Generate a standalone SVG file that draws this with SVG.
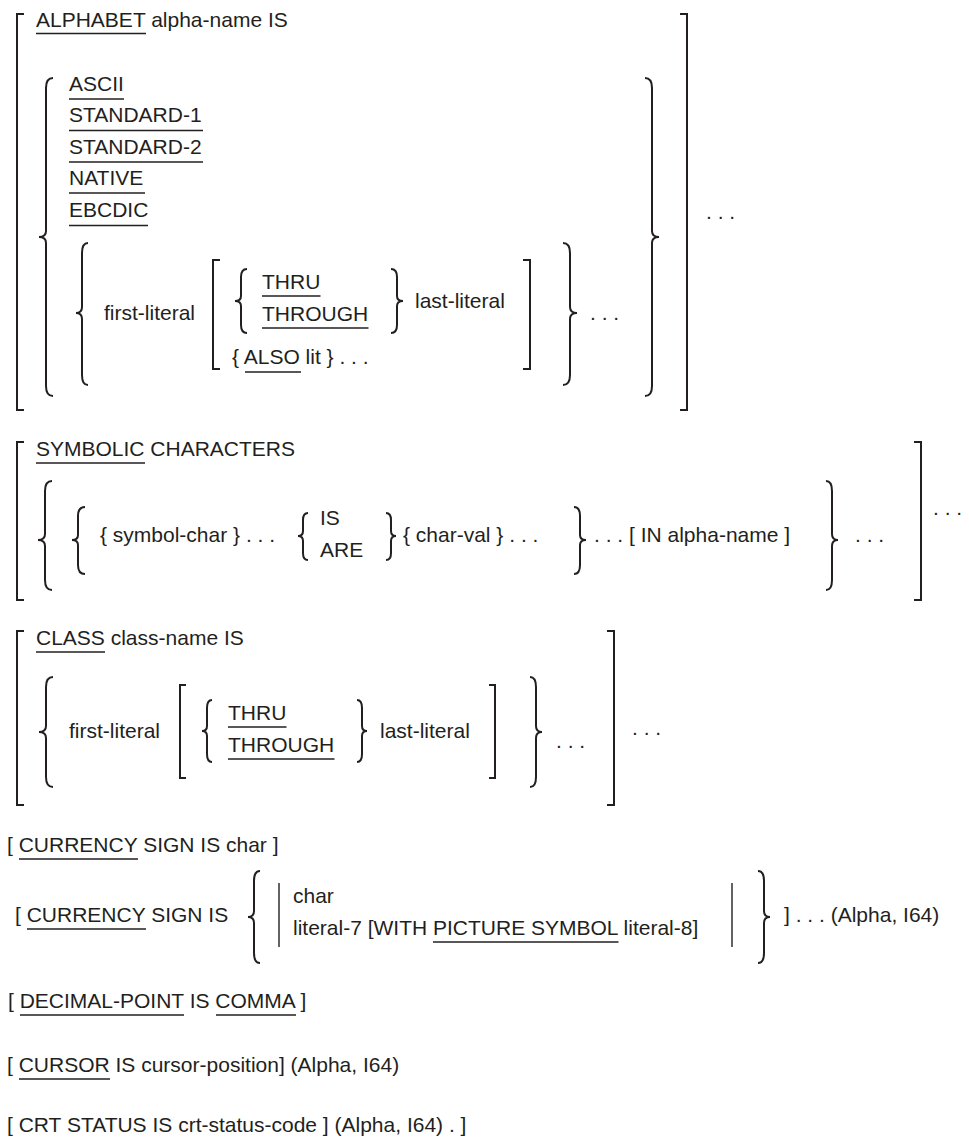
<svg xmlns="http://www.w3.org/2000/svg" width="969" height="1141" viewBox="0 0 969 1141">
<style>
.t{font-family:"Liberation Sans",Arial,sans-serif;font-size:21px;fill:#231f20}
.u{stroke:#231f20;stroke-width:1.7;fill:none}
.br{stroke:#231f20;stroke-width:2;fill:none;stroke-linejoin:miter}
.bar{stroke:#231f20;stroke-width:1.4;fill:none}
</style>
<rect width="969" height="1141" fill="#ffffff"/>
<g id="alphabet-clause">
<path class="br" d="M24 14 H17 V410 H24"/>
<path class="br" d="M680 14 H687 V410 H680"/>
<text class="t" x="36" y="27">ALPHABET alpha-name IS</text>
<line class="u" x1="36" y1="33.5" x2="146" y2="33.5"/>
<path class="br" d="M53 78 Q46 78 46 88 V231 Q46 237 39 237 Q46 237 46 243 V386 Q46 396 53 396"/>
<path class="br" d="M645 78 Q652 78 652 88 V231 Q652 237 659 237 Q652 237 652 243 V386 Q652 396 645 396"/>
<text class="t" x="69" y="91">ASCII</text>
<line class="u" x1="69" y1="99" x2="124" y2="99"/>
<text class="t" x="69" y="122">STANDARD-1</text>
<line class="u" x1="69" y1="130.5" x2="203" y2="130.5"/>
<text class="t" x="69" y="153.5">STANDARD-2</text>
<line class="u" x1="69" y1="162" x2="203" y2="162"/>
<text class="t" x="69" y="185">NATIVE</text>
<line class="u" x1="69" y1="193" x2="145" y2="193"/>
<text class="t" x="69" y="217">EBCDIC</text>
<line class="u" x1="69" y1="225.5" x2="148" y2="225.5"/>
<path class="br" d="M88 243 Q82 243 82 253 V307 Q82 313 76 313 Q82 313 82 319 V375 Q82 385 88 385"/>
<path class="br" d="M563 243 Q570 243 570 253 V307 Q570 313 577 313 Q570 313 570 319 V375 Q570 385 563 385"/>
<text class="t" x="104" y="320">first-literal</text>
<path class="br" d="M220 260 H213 V369 H220"/>
<path class="br" d="M523 260 H530 V369 H523"/>
<path class="br" d="M247 269 Q241 269 241 277 V296 Q241 301 235 301 Q241 301 241 306 V325 Q241 333 247 333"/>
<path class="br" d="M391 269 Q397 269 397 277 V296 Q397 301 403 301 Q397 301 397 306 V325 Q397 333 391 333"/>
<text class="t" x="262" y="289">THRU</text>
<line class="u" x1="262" y1="296" x2="320.5" y2="296"/>
<text class="t" x="262" y="321">THROUGH</text>
<line class="u" x1="262" y1="328" x2="368.5" y2="328"/>
<text class="t" x="415" y="308">last-literal</text>
<text class="t" x="232" y="364">{ ALSO lit } . . .</text>
<line class="u" x1="245" y1="372" x2="301" y2="372"/>
<text class="t" x="590" y="320">. . .</text>
<text class="t" x="706" y="219">. . .</text>
</g>
<g id="symbolic-clause">
<path class="br" d="M24 442 H17 V600 H24"/>
<path class="br" d="M914 442 H921 V600 H914"/>
<text class="t" x="36" y="456">SYMBOLIC CHARACTERS</text>
<line class="u" x1="36" y1="463" x2="145" y2="463"/>
<path class="br" d="M52 481 Q45 481 45 491 V534 Q45 540 38 540 Q45 540 45 546 V580 Q45 590 52 590"/>
<path class="br" d="M85 507 Q78 507 78 516 V535 Q78 540 72 540 Q78 540 78 545 V565 Q78 574 85 574"/>
<text class="t" x="100" y="542">{ symbol-char } . . .</text>
<path class="br" d="M308 513 Q303 513 303 520 V531 Q303 536 298 536 Q303 536 303 541 V553 Q303 560 308 560"/>
<text class="t" x="320" y="525">IS</text>
<text class="t" x="320" y="557">ARE</text>
<path class="br" d="M386 513 Q391 513 391 520 V531 Q391 536 396 536 Q391 536 391 541 V553 Q391 560 386 560"/>
<text class="t" x="403" y="542">{ char-val } . . .</text>
<path class="br" d="M574 507 Q580 507 580 516 V535 Q580 540 586 540 Q580 540 580 545 V565 Q580 574 574 574"/>
<text class="t" x="594" y="542">. . . [ IN alpha-name ]</text>
<path class="br" d="M826 481 Q832 481 832 491 V534 Q832 540 838 540 Q832 540 832 546 V580 Q832 590 826 590"/>
<text class="t" x="855" y="542">. . .</text>
<text class="t" x="933" y="515">. . .</text>
</g>
<g id="class-clause">
<path class="br" d="M24 631 H17 V805 H24"/>
<path class="br" d="M607 631 H614 V805 H607"/>
<text class="t" x="36" y="645">CLASS class-name IS</text>
<line class="u" x1="36" y1="652" x2="105" y2="652"/>
<path class="br" d="M53 677 Q46 677 46 687 V726 Q46 732 39 732 Q46 732 46 738 V777 Q46 787 53 787"/>
<text class="t" x="69" y="738">first-literal</text>
<path class="br" d="M186 685 H180 V778 H186"/>
<path class="br" d="M212 700 Q207 700 207 708 V726 Q207 731 202 731 Q207 731 207 736 V754 Q207 762 212 762"/>
<text class="t" x="228" y="720">THRU</text>
<line class="u" x1="228" y1="727" x2="286.5" y2="727"/>
<text class="t" x="228" y="752">THROUGH</text>
<line class="u" x1="228" y1="759" x2="334.5" y2="759"/>
<path class="br" d="M357 700 Q362 700 362 708 V726 Q362 731 367 731 Q362 731 362 736 V754 Q362 762 357 762"/>
<text class="t" x="380" y="738">last-literal</text>
<path class="br" d="M489 685 H495 V778 H489"/>
<path class="br" d="M530 677 Q536 677 536 687 V726 Q536 732 542 732 Q536 732 536 738 V777 Q536 787 530 787"/>
<text class="t" x="556" y="748">. . .</text>
<text class="t" x="632" y="735">. . .</text>
</g>
<g id="currency-clause">
<text class="t" x="7" y="852">[ CURRENCY SIGN IS char ]</text>
<line class="u" x1="19" y1="859" x2="138" y2="859"/>
</g>
<g id="currency-picture-clause">
<text class="t" x="15" y="922">[ CURRENCY SIGN IS</text>
<line class="u" x1="27" y1="929" x2="146" y2="929"/>
<path class="br" d="M260 871 Q254 871 254 881 V911 Q254 917 248 917 Q254 917 254 923 V953 Q254 963 260 963"/>
<path class="bar" d="M279 883 V947"/>
<text class="t" x="293" y="903">char</text>
<text class="t" x="293" y="935">literal-7 [WITH PICTURE SYMBOL literal-8]</text>
<line class="u" x1="433" y1="942" x2="618.5" y2="942"/>
<path class="bar" d="M732 883 V947"/>
<path class="br" d="M758 871 Q764 871 764 881 V911 Q764 917 770 917 Q764 917 764 923 V953 Q764 963 758 963"/>
<text class="t" x="784" y="922">] . . . (Alpha, I64)</text>
</g>
<g id="decimal-point-clause">
<text class="t" x="8" y="1008">[ DECIMAL-POINT IS COMMA ]</text>
<line class="u" x1="20" y1="1015" x2="184" y2="1015"/>
<line class="u" x1="216" y1="1015" x2="296" y2="1015"/>
</g>
<g id="cursor-clause">
<text class="t" x="7" y="1072">[ CURSOR IS cursor-position] (Alpha, I64)</text>
<line class="u" x1="19" y1="1079" x2="110" y2="1079"/>
</g>
<g id="crt-status-clause">
<text class="t" x="7" y="1132">[ CRT STATUS IS crt-status-code ] (Alpha, I64) . ]</text>
</g>
<g id="connectors"></g>
</svg>
